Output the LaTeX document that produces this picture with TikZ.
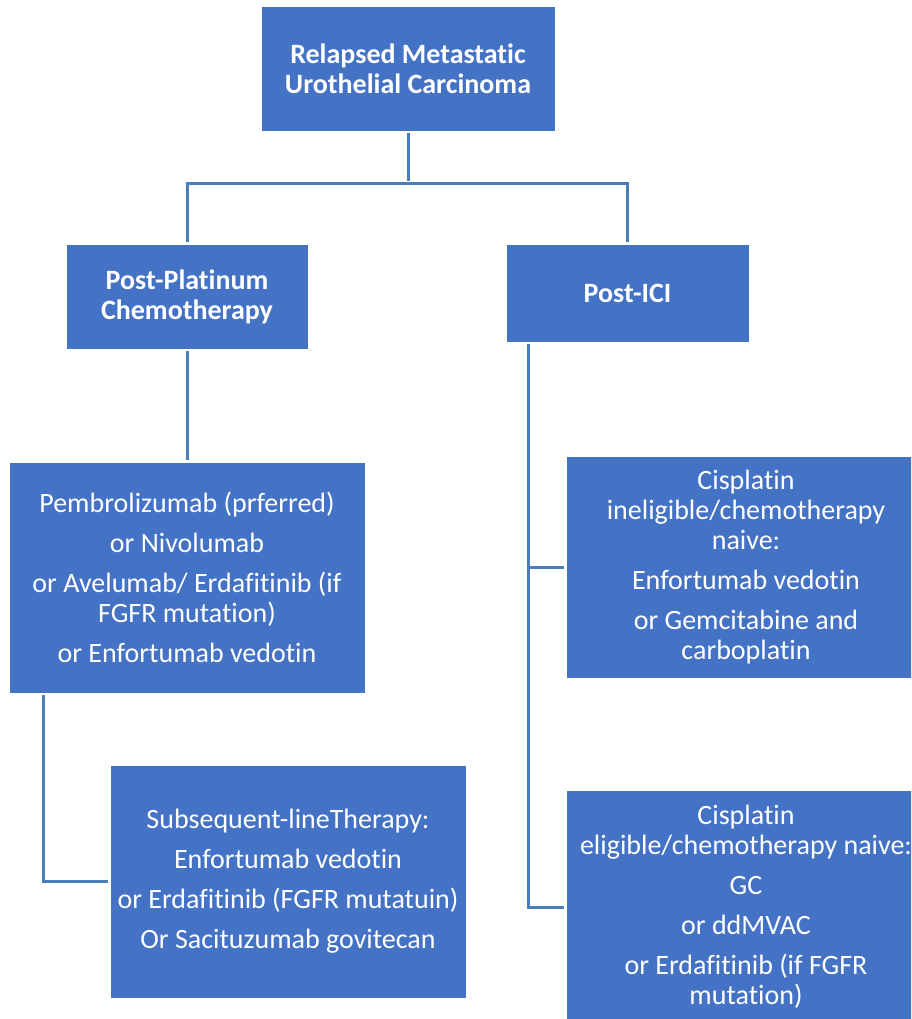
\documentclass[tikz,border=0pt]{standalone}
\usepackage{fontspec}
\setmainfont{Carlito}[Ligatures={NoCommon}]
\begin{document}
\begin{tikzpicture}[x=1pt,y=-1pt,
  box/.style={fill=boxblue, draw=boxblue, text=white, inner sep=0pt,
    align=center, font=\fontsize{28}{30}\selectfont},
  head/.style={box, font=\fontsize{28}{30}\selectfont\bfseries},
  conn/.style={draw=lineblue, line width=3pt, shorten >=2.5pt}]
\definecolor{boxblue}{HTML}{4472C4}
\definecolor{lineblue}{RGB}{74,126,187}
\clip (0,0) rectangle (911,1019);
\fill[white] (0,0) rectangle (911,1019);

% level 1
\node[head, minimum width=292pt, minimum height=123pt] (root) at (408,68.5)
  {Relapsed Metastatic\\Urothelial Carcinoma};

% level 2
\node[head, minimum width=240pt, minimum height=103pt] (pp) at (187,296.5)
  {Post-Platinum\\Chemotherapy};
\node[head, minimum width=241pt, minimum height=96pt] (ici) at (627.5,293)
  {Post-ICI};

% left branch
\node[box, minimum width=354pt, minimum height=229pt] (pem) at (187,577.5)
  {Pembrolizumab (prferred)\\[10pt]or Nivolumab\\[10pt]or Avelumab/ Erdafitinib (if\\FGFR mutation)\\[10pt]or Enfortumab vedotin};
\node[box, minimum width=354pt, minimum height=231pt] (sub) at (288,881.5)
  {Subsequent-lineTherapy:\\[10pt]Enfortumab vedotin\\[10pt]or Erdafitinib (FGFR mutatuin)\\[10pt]Or Sacituzumab govitecan};

% right branch
\node[box, minimum width=358pt, minimum height=220pt] (inel) at (746,567)
  {Cisplatin\\ineligible/chemotherapy\\naive:\\[10pt]Enfortumab vedotin\\[10pt]or Gemcitabine and\\carboplatin};
\node[box, minimum width=358pt, minimum height=232pt] (elig) at (746,907)
  {Cisplatin\\eligible/chemotherapy naive:\\[10pt]GC\\[10pt]or ddMVAC\\[10pt]or Erdafitinib (if FGFR\\mutation)};

% connectors
\coordinate (split) at (408,184);
\draw[conn, shorten <=3pt] (root.south) -- (split);
\draw[conn] (split) -| (pp.north);
\draw[conn] (split) -| (ici.north);
\draw[conn, shorten <=3pt] (pp.south) -- (pem.north);
\draw[conn, shorten <=3pt] ([xshift=34pt]pem.south west) |- (sub.west);
\coordinate (trunk) at ([xshift=22pt]ici.south west);
\draw[conn, shorten <=3pt] (trunk) |- (elig.west);
\draw[conn] (trunk |- inel.west) -- (inel.west);
\end{tikzpicture}
\end{document}
